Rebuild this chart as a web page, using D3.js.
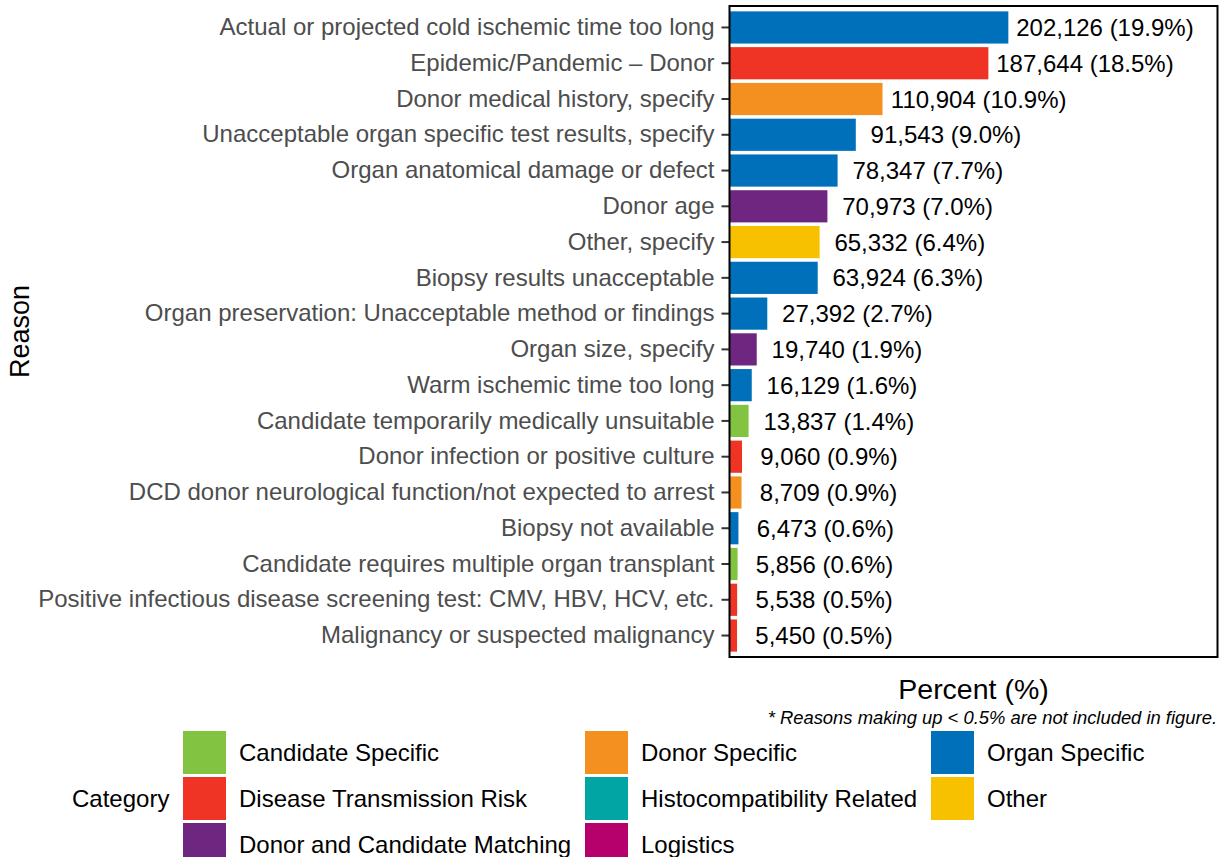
<!DOCTYPE html>
<html>
<head>
<meta charset="utf-8">
<script src="https://cdn.jsdelivr.net/npm/d3@7"></script>
<style>
  body { margin: 0; background: #fff; }
  svg { display: block; font-family: "Liberation Sans", Arial, sans-serif; }
</style>
</head>
<body>
<main></main>
<script>
// Data
const reasons = [
  "Actual or projected cold ischemic time too long",
  "Epidemic/Pandemic \u2013 Donor",
  "Donor medical history, specify",
  "Unacceptable organ specific test results, specify",
  "Organ anatomical damage or defect",
  "Donor age",
  "Other, specify",
  "Biopsy results unacceptable",
  "Organ preservation: Unacceptable method or findings",
  "Organ size, specify",
  "Warm ischemic time too long",
  "Candidate temporarily medically unsuitable",
  "Donor infection or positive culture",
  "DCD donor neurological function/not expected to arrest",
  "Biopsy not available",
  "Candidate requires multiple organ transplant",
  "Positive infectious disease screening test: CMV, HBV, HCV, etc.",
  "Malignancy or suspected malignancy"
];
const counts = [202126, 187644, 110904, 91543, 78347, 70973, 65332, 63924, 27392,
  19740, 16129, 13837, 9060, 8709, 6473, 5856, 5538, 5450];
const percents = ["19.9", "18.5", "10.9", "9.0", "7.7", "7.0", "6.4", "6.3", "2.7",
  "1.9", "1.6", "1.4", "0.9", "0.9", "0.6", "0.6", "0.5", "0.5"];
const reasonCategory = [
  "Organ Specific", "Disease Transmission Risk", "Donor Specific", "Organ Specific",
  "Organ Specific", "Donor and Candidate Matching", "Other", "Organ Specific",
  "Organ Specific", "Donor and Candidate Matching", "Organ Specific", "Candidate Specific",
  "Disease Transmission Risk", "Donor Specific", "Organ Specific", "Candidate Specific",
  "Disease Transmission Risk", "Disease Transmission Risk"
];
const categories = [
  "Candidate Specific", "Disease Transmission Risk", "Donor and Candidate Matching",
  "Donor Specific", "Histocompatibility Related", "Logistics",
  "Organ Specific", "Other"
];
const categoryColors = ["#82c341", "#ef3426", "#6f2680", "#f3901f", "#00a5a4", "#b6006b", "#0070bb", "#f8c100"];

const data = reasons.map((r, i) => ({
  reason: r,
  count: counts[i],
  pct: percents[i],
  category: reasonCategory[i]
}));

// Dimensions
const w = 1225;
const h = 857;
const panel = { left: 729.5, right: 1217.5, top: 6, bottom: 657 };
const fontSize = 24;

const svg = d3
  .select("main")
  .append("svg")
  .attr("width", w)
  .attr("height", h);

const color = d3.scaleOrdinal().domain(categories).range(categoryColors);

// Scales
const xScale = d3
  .scaleLinear()
  .domain([0, d3.max(counts) * 1.75])
  .range([panel.left, panel.right]);

const yScale = d3
  .scaleBand()
  .domain(reasons)
  .range([panel.top, panel.bottom])
  .paddingInner(0.1)
  .paddingOuter(0.15);

// Bars
svg
  .append("g")
  .selectAll("rect")
  .data(data)
  .join("rect")
  .attr("x", xScale(0))
  .attr("y", (d) => yScale(d.reason))
  .attr("width", (d) => xScale(d.count) - xScale(0))
  .attr("height", yScale.bandwidth())
  .attr("fill", (d) => color(d.category));

// Bar labels
const fmt = d3.format(",");
svg
  .append("g")
  .selectAll("text")
  .data(data)
  .join("text")
  .attr("y", (d) => yScale(d.reason) + yScale.bandwidth() / 2)
  .attr("dy", "0.36em")
  .attr("font-size", fontSize)
  .attr("fill", "#000")
  .text((d) => `${fmt(d.count)} (${d.pct}%)`)
  .each(function (d) {
    const tw = this.getComputedTextLength();
    d3.select(this).attr("x", xScale(d.count) + 54 - 0.26 * tw);
  });

// Y axis
const yAxis = d3.axisLeft(yScale).tickSize(8).tickPadding(7);
const yG = svg
  .append("g")
  .attr("transform", `translate(${panel.left}, 0)`)
  .call(yAxis);
yG.select(".domain").remove();
yG.selectAll(".tick line").attr("stroke", "#333").attr("stroke-width", 2);
yG.selectAll(".tick text")
  .attr("font-size", fontSize)
  .attr("fill", "#4d4d4d")
  .attr("font-family", "Liberation Sans, Arial, sans-serif");

// Panel border
svg
  .append("rect")
  .attr("x", panel.left)
  .attr("y", panel.top)
  .attr("width", panel.right - panel.left)
  .attr("height", panel.bottom - panel.top)
  .attr("fill", "none")
  .attr("stroke", "#000")
  .attr("stroke-width", 2);

// Axis titles
svg
  .append("text")
  .attr("text-anchor", "middle")
  .attr("transform", `translate(29, ${(panel.top + panel.bottom) / 2}) rotate(-90)`)
  .attr("font-size", 27)
  .text("Reason");

svg
  .append("text")
  .attr("text-anchor", "middle")
  .attr("x", (panel.left + panel.right) / 2)
  .attr("y", 699)
  .attr("font-size", 28.5)
  .text("Percent (%)");

svg
  .append("text")
  .attr("text-anchor", "end")
  .attr("x", 1217)
  .attr("y", 724)
  .attr("font-size", 18.4)
  .attr("font-style", "italic")
  .text("* Reasons making up < 0.5% are not included in figure.");

// Legend
const legend = svg.append("g").attr("id", "legend");

legend
  .append("text")
  .attr("x", 72)
  .attr("y", 807)
  .attr("font-size", fontSize)
  .text("Category");

const colX = [183, 585, 931];
const rowY = [731, 777, 823];

const items = legend
  .selectAll("g.item")
  .data(categories)
  .join("g")
  .attr("class", "item")
  .attr("transform", (d, i) => `translate(${colX[Math.floor(i / 3)]}, ${rowY[i % 3]})`);

items
  .append("rect")
  .attr("width", 43)
  .attr("height", 43)
  .attr("fill", (d) => color(d));

items
  .append("text")
  .attr("x", 56)
  .attr("y", 21.5)
  .attr("dy", "0.36em")
  .attr("font-size", fontSize)
  .text((d) => d);
</script>
</body>
</html>
